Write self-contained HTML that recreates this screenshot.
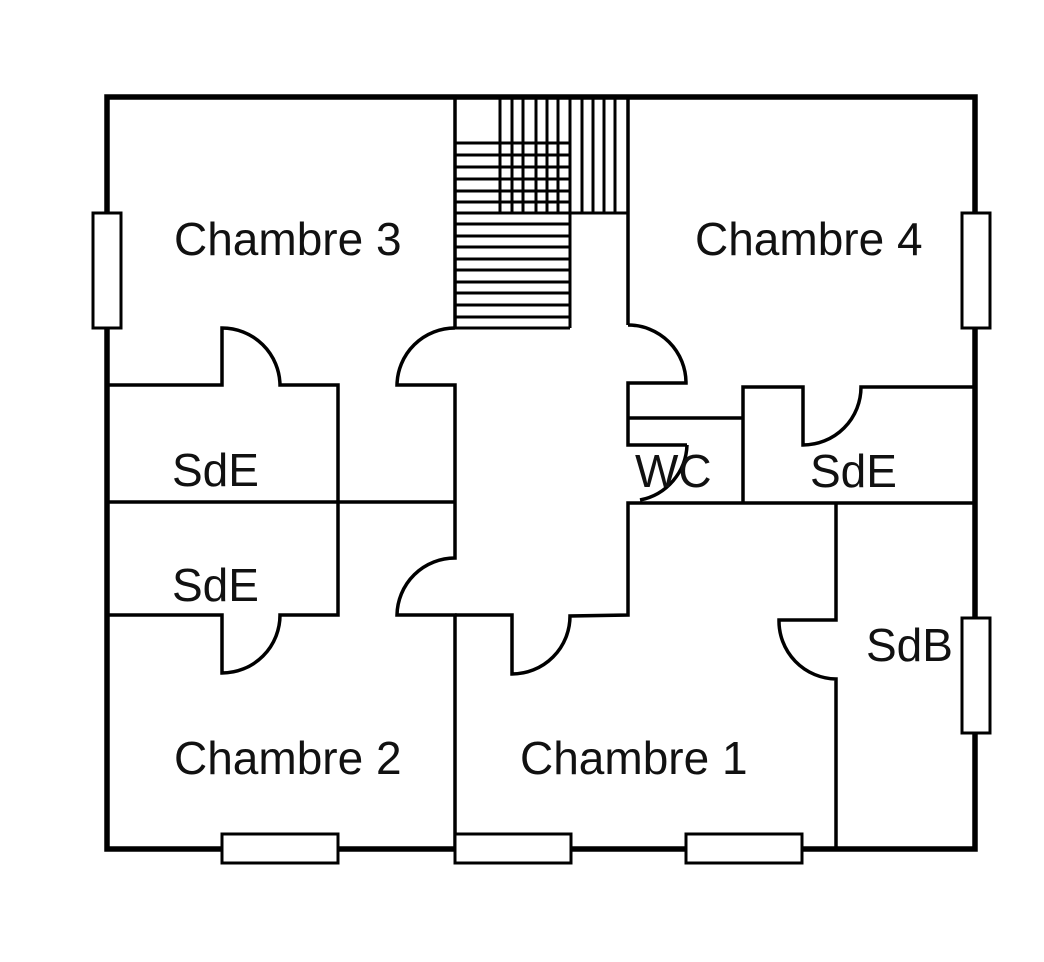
<!DOCTYPE html>
<html><head><style>body{margin:0;background:#fff}svg{display:block}text{font-family:"Liberation Sans",sans-serif;font-size:46px;fill:#111}</style></head>
<body>
<svg width="1044" height="962" viewBox="0 0 1044 962" xmlns="http://www.w3.org/2000/svg">
<g fill="none" stroke="#000">
<rect x="107" y="97" width="868" height="752" stroke-width="5.5"/>
<g stroke-width="3.5">
<line x1="455" y1="97" x2="455" y2="328"/>
<line x1="628" y1="97" x2="628" y2="325"/>
<path d="M455 328 A58 58 0 0 0 397 385 L455 385 L455 502"/>
<path d="M628 325 A58 58 0 0 1 686 383 L628 383 L628 445 L687 445"/>
<path d="M687 445 A58 58 0 0 1 640 500"/>
<path d="M107 385 L222 385 L222 328 A58 58 0 0 1 280 385 L338 385 L338 615 L280 615 A58 58 0 0 1 222 673 L222 615 L107 615"/>
<line x1="107" y1="502" x2="455" y2="502"/>
<path d="M455 502 L455 558 A58 58 0 0 0 397 615 L455 615 L455 849"/>
<path d="M455 615 L512 615 L512 674 A58 58 0 0 0 570 616 L628 615 L628 503 L975 503"/>
<line x1="628" y1="418" x2="743" y2="418"/>
<path d="M743 503 L743 387 L803 387 L803 445 A58 58 0 0 0 861 387 L975 387"/>
<path d="M836 503 L836 620 L779 620 A58 58 0 0 0 836 679 L836 849"/>
</g>
<g stroke-width="3">
<line x1="455" x2="570" y1="143" y2="143"/><line x1="455" x2="570" y1="155" y2="155"/><line x1="455" x2="570" y1="167" y2="167"/><line x1="455" x2="570" y1="179" y2="179"/><line x1="455" x2="570" y1="191" y2="191"/><line x1="455" x2="570" y1="202" y2="202"/><line x1="455" x2="628" y1="213" y2="213"/><line x1="455" x2="570" y1="224" y2="224"/><line x1="455" x2="570" y1="236" y2="236"/><line x1="455" x2="570" y1="247" y2="247"/><line x1="455" x2="570" y1="259" y2="259"/><line x1="455" x2="570" y1="270" y2="270"/><line x1="455" x2="570" y1="282" y2="282"/><line x1="455" x2="570" y1="293" y2="293"/><line x1="455" x2="570" y1="305" y2="305"/><line x1="455" x2="570" y1="317" y2="317"/><line x1="455" x2="570" y1="328" y2="328"/>
<line x1="570" x2="570" y1="213" y2="328"/>
<line y1="97" y2="213" x1="500" x2="500"/><line y1="97" y2="213" x1="512" x2="512"/><line y1="97" y2="213" x1="523" x2="523"/><line y1="97" y2="213" x1="536" x2="536"/><line y1="97" y2="213" x1="547" x2="547"/><line y1="97" y2="213" x1="558" x2="558"/><line y1="97" y2="213" x1="570" x2="570"/><line y1="97" y2="213" x1="582" x2="582"/><line y1="97" y2="213" x1="593" x2="593"/><line y1="97" y2="213" x1="604" x2="604"/><line y1="97" y2="213" x1="615" x2="615"/>
</g>
<g fill="#fff" stroke-width="3">
<rect x="93" y="213" width="28" height="115"/>
<rect x="962" y="213" width="28" height="115"/>
<rect x="962" y="618" width="28" height="115"/>
<rect x="222" y="834" width="116" height="29"/>
<rect x="455" y="834" width="116" height="29"/>
<rect x="686" y="834" width="116" height="29"/>
</g>
</g>
<text x="174" y="255">Chambre 3</text>
<text x="695" y="255">Chambre 4</text>
<text x="174" y="774">Chambre 2</text>
<text x="520" y="774">Chambre 1</text>
<text x="172" y="486">SdE</text>
<text x="172" y="601">SdE</text>
<text x="810" y="487">SdE</text>
<text x="635" y="487">WC</text>
<text x="866" y="661">SdB</text>
</svg>
</body></html>
